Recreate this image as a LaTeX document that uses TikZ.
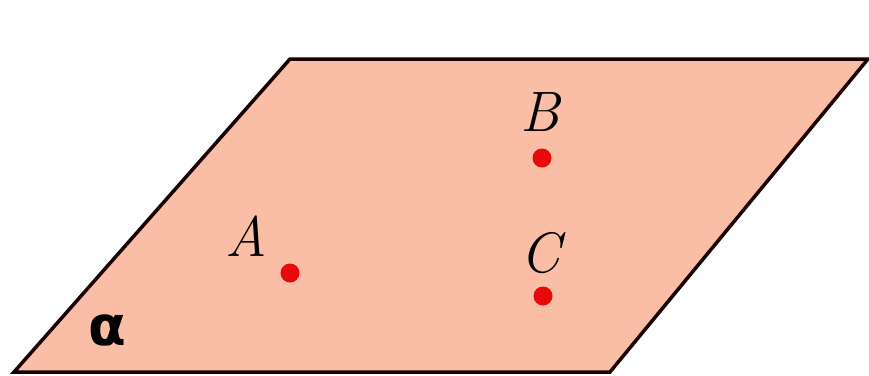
\documentclass[tikz,border=0pt]{standalone}
\usepackage{fontspec}
\newfontfamily\alphafont{DejaVu Sans}
\begin{document}
\begin{tikzpicture}[x=1pt,y=-1pt,
  pt/.style={circle,fill=dotcol,inner sep=0pt,minimum size=19pt},
  lab/.style={font=\fontsize{57}{64}\selectfont\itshape},
  plane/.style={draw=black!90!red,line width=3.5pt,fill=planecol,line join=miter}]
\definecolor{planecol}{RGB}{249,190,165}
\definecolor{dotcol}{RGB}{232,10,10}
\useasboundingbox (0,0) rectangle (869,375);
\coordinate (p1) at (290,59);
\coordinate (p2) at (868,59);
\coordinate (p3) at (610,372);
\coordinate (p4) at (14,372);
\draw[plane] (p1) -- (p2) -- (p3) -- (p4) -- cycle;
\node[pt] (A) at (290,273) {};
\node[pt] (B) at (542,158) {};
\node[pt] (C) at (543,296) {};
\node[lab] (la) at (246,236) {A};
\node[lab] (lb) at (540,112) {B};
\node[lab] (lc) at (540,253) {C};
\node[font=\alphafont\bfseries\fontsize{55}{60}\selectfont] (al) at (107,330) {α};
\end{tikzpicture}
\end{document}
